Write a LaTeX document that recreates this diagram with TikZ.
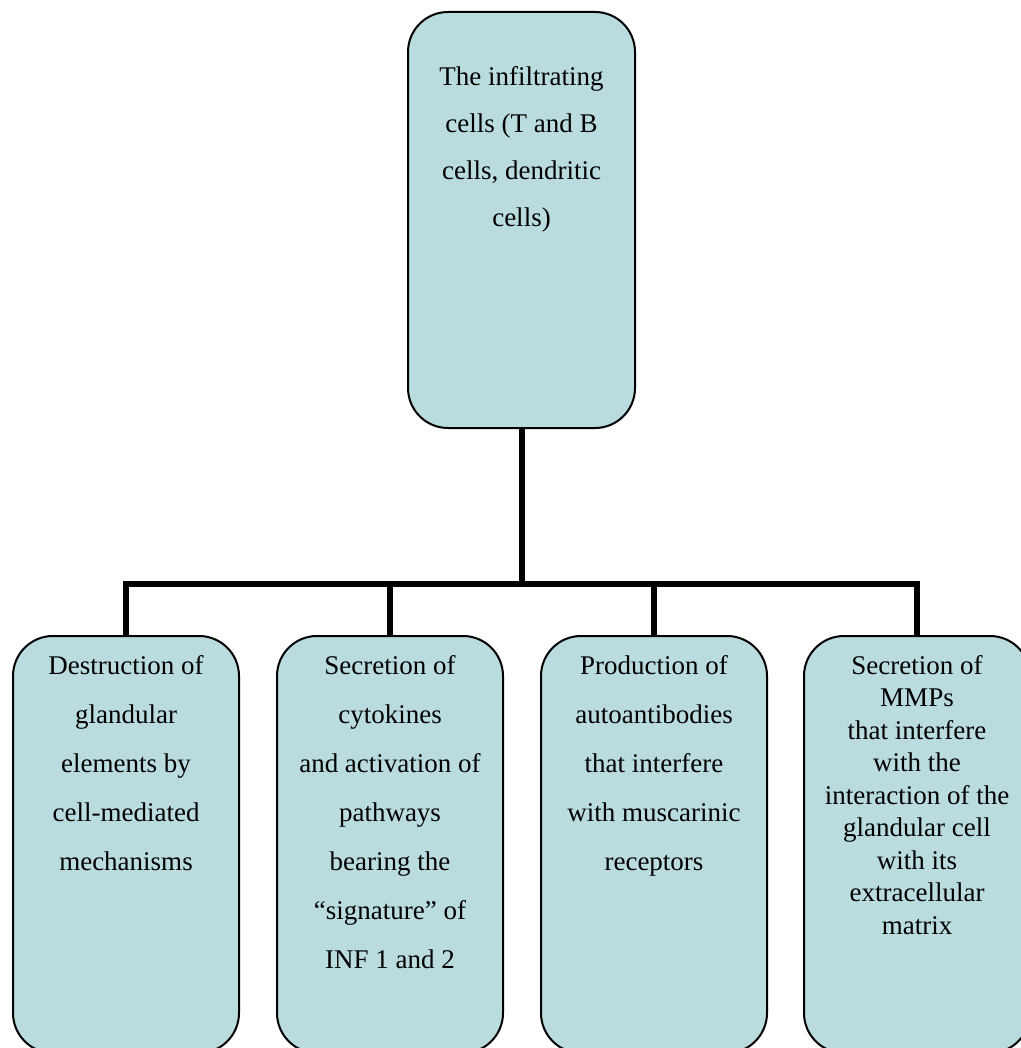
\documentclass[tikz,border=0pt]{standalone}
\usepackage{fontspec}
\setmainfont{Liberation Serif}
\definecolor{boxfill}{RGB}{186,220,222}
\begin{document}
\begin{tikzpicture}[x=1pt,y=-1pt,
  box/.style={draw=black, line width=2pt, fill=boxfill, rectangle, rounded corners=40pt, inner sep=0pt},
  conn/.style={draw=black, line width=6pt, line join=miter},
  txttop/.style={anchor=north, align=center, inner sep=0pt, font=\fontsize{27}{47}\selectfont},
  txt/.style={anchor=north, align=center, inner sep=0pt, font=\fontsize{27}{49}\selectfont},
  txtb/.style={anchor=north, align=center, inner sep=0pt, font=\fontsize{27}{32.5}\selectfont}]
\useasboundingbox (0,0) rectangle (1020,1048);

\coordinate (bus) at (521.5,584);

\node[box, minimum width=227pt, minimum height=416pt] (top) at (521.5,220) {};
\node[box, minimum width=226pt, minimum height=417pt] (b1) at (126,844.5) {};
\node[box, minimum width=226pt, minimum height=417pt] (b2) at (390,844.5) {};
\node[box, minimum width=226pt, minimum height=417pt] (b3) at (654,844.5) {};
\node[box, minimum width=226pt, minimum height=417pt] (b4) at (917,844.5) {};

\draw[conn] (top.south) -- (bus);
\draw[conn] (bus) -| (b1.north);
\draw[conn] (bus) -| (b2.north);
\draw[conn] (bus) -| (b3.north);
\draw[conn] (bus) -| (b4.north);

\node[txttop] (t0) at (521.5,66) {The infiltrating\\cells (T and B\\cells, dendritic\\cells)};
\node[txt] (t1) at (126,655) {Destruction of\\glandular\\elements by\\cell-mediated\\mechanisms};
\node[txt] (t2) at (390,655) {Secretion of\\cytokines\\and activation of\\pathways\\bearing the\\“signature” of\\INF 1 and 2};
\node[txt] (t3) at (654,655) {Production of\\autoantibodies\\that interfere\\with muscarinic\\receptors};
\node[txtb] (t4) at (917,655) {Secretion of\\MMPs\\that interfere\\with the\\interaction of the\\glandular cell\\with its\\extracellular\\matrix};
\end{tikzpicture}
\end{document}
